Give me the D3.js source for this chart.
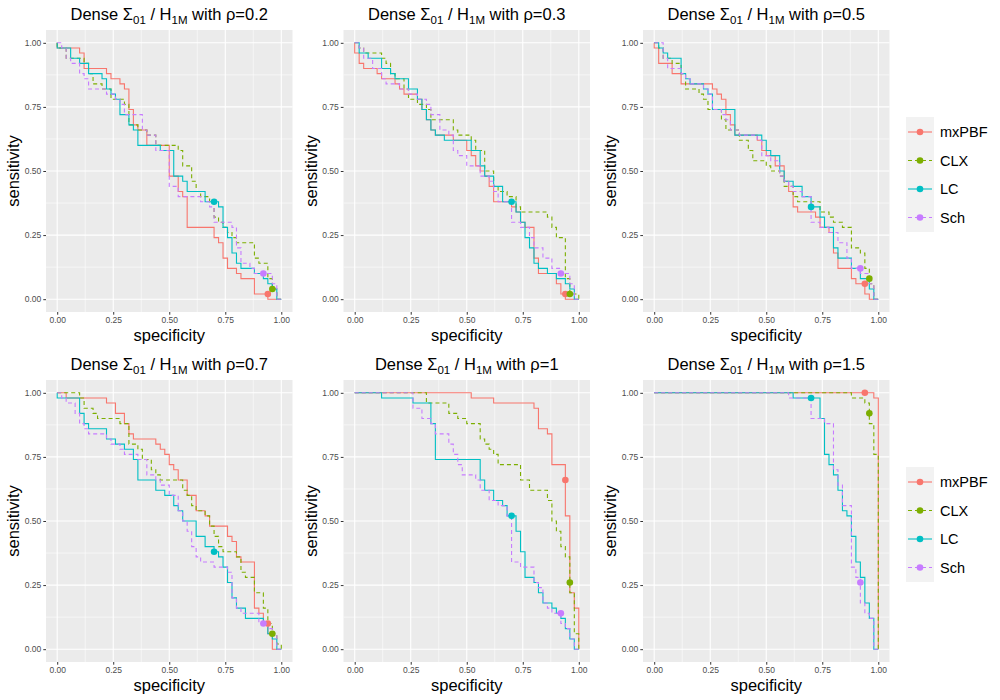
<!DOCTYPE html>
<html lang="en">
<head>
<meta charset="utf-8">
<title>Dense ROC panels</title>
<style>
  body { margin: 0; background: #fff; }
  svg { font-family: "Liberation Sans", Arial, sans-serif; }
  .tick text { fill: #4d4d4d; font-size: 8.5px; }
  .tick line { stroke: #333; }
</style>
</head>
<body>
<script src="https://d3js.org/d3.v7.min.js"></script>
<script>

// ---- data -------------------------------------------------------------
const methods = ["mxPBF", "CLX", "LC", "Sch"];
const rhos = ["0.2", "0.3", "0.5", "0.7", "1", "1.5"];
const ticks = [0, 0.25, 0.5, 0.75, 1];

// operating point of each method (specificity is the same in every panel)
const ptSpec = [0.94, 0.96, 0.70, 0.92];
const ptSens_r02 = [0.02, 0.04, 0.38, 0.10];
const ptSens_r03 = [0.02, 0.02, 0.38, 0.10];
const ptSens_r05 = [0.06, 0.08, 0.36, 0.12];
const ptSens_r07 = [0.10, 0.06, 0.38, 0.10];
const ptSens_r10 = [0.66, 0.26, 0.52, 0.14];
const ptSens_r15 = [1.00, 0.92, 0.98, 0.26];

// step curves: [specificity where sensitivity drops, new sensitivity]
const r02_mxPBF = [[0,1],[0,0.98],[0.10,0.96],[0.12,0.90],[0.22,0.88],[0.24,0.86],[0.28,0.84],[0.30,0.82],[0.32,0.74],[0.34,0.68],[0.36,0.66],[0.40,0.60],[0.50,0.48],[0.54,0.42],[0.56,0.40],[0.58,0.28],[0.70,0.24],[0.72,0.22],[0.74,0.16],[0.76,0.12],[0.80,0.10],[0.82,0.08],[0.88,0.02],[0.94,0],[1,0]];
const r02_CLX = [[0,1],[0,0.98],[0.04,0.94],[0.12,0.92],[0.14,0.88],[0.16,0.84],[0.20,0.82],[0.24,0.78],[0.30,0.76],[0.32,0.68],[0.36,0.66],[0.40,0.64],[0.44,0.60],[0.54,0.58],[0.56,0.52],[0.60,0.46],[0.62,0.42],[0.64,0.40],[0.68,0.38],[0.70,0.32],[0.72,0.30],[0.74,0.28],[0.76,0.26],[0.78,0.24],[0.80,0.22],[0.88,0.16],[0.90,0.14],[0.94,0.08],[0.96,0.04],[0.98,0],[1,0]];
const r02_LC = [[0,1],[0,0.98],[0.06,0.94],[0.10,0.92],[0.14,0.88],[0.20,0.86],[0.22,0.82],[0.24,0.80],[0.26,0.78],[0.28,0.72],[0.32,0.68],[0.34,0.66],[0.36,0.60],[0.46,0.58],[0.52,0.48],[0.56,0.46],[0.58,0.42],[0.66,0.38],[0.72,0.36],[0.74,0.28],[0.76,0.24],[0.78,0.18],[0.80,0.14],[0.82,0.12],[0.88,0.10],[0.92,0.08],[0.94,0.06],[0.96,0.04],[0.98,0],[1,0]];
const r02_Sch = [[0,1],[0.02,0.98],[0.04,0.94],[0.06,0.92],[0.10,0.88],[0.12,0.86],[0.14,0.82],[0.22,0.80],[0.26,0.78],[0.28,0.76],[0.30,0.72],[0.38,0.66],[0.40,0.64],[0.44,0.58],[0.50,0.44],[0.54,0.40],[0.64,0.38],[0.68,0.36],[0.70,0.30],[0.78,0.28],[0.80,0.20],[0.82,0.14],[0.86,0.12],[0.88,0.10],[0.96,0.06],[0.98,0],[1,0]];

const r03_mxPBF = [[0,1],[0,0.96],[0.02,0.92],[0.04,0.90],[0.10,0.88],[0.12,0.86],[0.18,0.84],[0.20,0.82],[0.22,0.80],[0.28,0.78],[0.30,0.74],[0.32,0.70],[0.34,0.66],[0.36,0.64],[0.44,0.62],[0.50,0.58],[0.52,0.56],[0.54,0.52],[0.56,0.50],[0.58,0.48],[0.60,0.44],[0.62,0.38],[0.70,0.36],[0.72,0.34],[0.74,0.30],[0.76,0.28],[0.80,0.16],[0.82,0.10],[0.90,0.06],[0.92,0.02],[0.94,0],[1,0]];
const r03_CLX = [[0,1],[0.02,0.98],[0.04,0.96],[0.12,0.94],[0.14,0.92],[0.16,0.88],[0.18,0.86],[0.22,0.82],[0.24,0.78],[0.28,0.76],[0.32,0.74],[0.34,0.70],[0.44,0.66],[0.46,0.64],[0.52,0.62],[0.54,0.58],[0.58,0.50],[0.62,0.44],[0.64,0.42],[0.68,0.40],[0.72,0.36],[0.74,0.34],[0.86,0.32],[0.88,0.28],[0.90,0.24],[0.94,0.08],[0.96,0.02],[1,0]];
const r03_LC = [[0,1],[0.02,0.96],[0.06,0.94],[0.12,0.90],[0.16,0.88],[0.18,0.86],[0.24,0.82],[0.28,0.78],[0.30,0.74],[0.32,0.70],[0.34,0.66],[0.36,0.64],[0.40,0.62],[0.52,0.58],[0.56,0.52],[0.58,0.48],[0.62,0.44],[0.66,0.38],[0.72,0.34],[0.74,0.30],[0.76,0.24],[0.78,0.20],[0.80,0.14],[0.82,0.12],[0.86,0.10],[0.90,0.08],[0.94,0.06],[0.96,0.04],[0.98,0],[1,0]];
const r03_Sch = [[0,1],[0.02,0.98],[0.04,0.94],[0.08,0.90],[0.12,0.86],[0.14,0.84],[0.20,0.82],[0.24,0.80],[0.28,0.78],[0.32,0.76],[0.34,0.72],[0.38,0.66],[0.42,0.64],[0.44,0.58],[0.46,0.56],[0.50,0.52],[0.56,0.48],[0.60,0.46],[0.62,0.42],[0.64,0.38],[0.70,0.30],[0.74,0.28],[0.78,0.24],[0.80,0.20],[0.84,0.16],[0.88,0.12],[0.92,0.10],[0.96,0.06],[0.98,0],[1,0]];

const r05_mxPBF = [[0,1],[0,0.98],[0.02,0.92],[0.08,0.88],[0.12,0.84],[0.26,0.82],[0.28,0.80],[0.30,0.78],[0.32,0.72],[0.34,0.68],[0.36,0.64],[0.46,0.62],[0.48,0.58],[0.50,0.56],[0.54,0.52],[0.58,0.46],[0.60,0.42],[0.62,0.36],[0.64,0.34],[0.72,0.32],[0.74,0.28],[0.78,0.26],[0.80,0.18],[0.82,0.12],[0.88,0.08],[0.90,0.06],[0.94,0.02],[0.96,0],[1,0]];
const r05_CLX = [[0,1],[0.02,0.98],[0.04,0.94],[0.08,0.92],[0.12,0.88],[0.14,0.82],[0.20,0.80],[0.22,0.78],[0.24,0.74],[0.30,0.70],[0.32,0.66],[0.38,0.62],[0.42,0.58],[0.44,0.54],[0.50,0.52],[0.52,0.50],[0.56,0.48],[0.58,0.44],[0.62,0.40],[0.64,0.38],[0.74,0.34],[0.78,0.32],[0.80,0.30],[0.84,0.28],[0.88,0.20],[0.92,0.18],[0.94,0.12],[0.96,0.06],[0.98,0],[1,0]];
const r05_LC = [[0,1],[0.02,0.98],[0.04,0.96],[0.06,0.94],[0.12,0.88],[0.14,0.86],[0.16,0.84],[0.22,0.82],[0.24,0.80],[0.26,0.74],[0.36,0.64],[0.48,0.62],[0.50,0.58],[0.52,0.56],[0.56,0.50],[0.58,0.46],[0.62,0.44],[0.66,0.40],[0.70,0.36],[0.74,0.32],[0.76,0.28],[0.80,0.20],[0.82,0.16],[0.88,0.12],[0.92,0.08],[0.96,0.04],[0.98,0],[1,0]];
const r05_Sch = [[0,1],[0.04,0.94],[0.06,0.90],[0.12,0.88],[0.14,0.86],[0.16,0.84],[0.22,0.82],[0.24,0.80],[0.26,0.74],[0.30,0.72],[0.32,0.70],[0.34,0.66],[0.38,0.64],[0.46,0.62],[0.48,0.56],[0.52,0.54],[0.56,0.48],[0.58,0.46],[0.60,0.44],[0.62,0.42],[0.66,0.40],[0.70,0.30],[0.74,0.28],[0.78,0.26],[0.82,0.22],[0.86,0.16],[0.88,0.12],[0.92,0.10],[0.96,0.06],[0.98,0],[1,0]];

const r07_mxPBF = [[0,1],[0.04,0.98],[0.22,0.96],[0.26,0.92],[0.30,0.88],[0.32,0.84],[0.34,0.82],[0.44,0.80],[0.46,0.78],[0.48,0.76],[0.50,0.72],[0.52,0.70],[0.54,0.66],[0.58,0.60],[0.62,0.54],[0.66,0.52],[0.68,0.48],[0.76,0.44],[0.78,0.42],[0.80,0.36],[0.82,0.34],[0.88,0.16],[0.90,0.14],[0.92,0.10],[0.94,0.06],[0.96,0],[1,0]];
const r07_CLX = [[0,1],[0.10,0.98],[0.12,0.94],[0.16,0.92],[0.18,0.90],[0.28,0.88],[0.32,0.80],[0.36,0.78],[0.38,0.74],[0.42,0.70],[0.44,0.68],[0.46,0.66],[0.56,0.62],[0.58,0.60],[0.60,0.56],[0.62,0.54],[0.66,0.52],[0.68,0.48],[0.70,0.44],[0.72,0.40],[0.74,0.38],[0.80,0.36],[0.82,0.30],[0.84,0.28],[0.88,0.22],[0.92,0.16],[0.94,0.10],[0.96,0.06],[0.98,0.02],[1,0]];
const r07_LC = [[0,1],[0,0.98],[0.10,0.92],[0.12,0.88],[0.14,0.86],[0.22,0.82],[0.26,0.80],[0.30,0.78],[0.34,0.74],[0.36,0.66],[0.44,0.62],[0.48,0.60],[0.52,0.56],[0.54,0.54],[0.56,0.50],[0.62,0.44],[0.66,0.40],[0.70,0.38],[0.72,0.36],[0.74,0.32],[0.76,0.26],[0.78,0.20],[0.80,0.16],[0.84,0.12],[0.92,0.10],[0.94,0.06],[0.96,0.04],[0.98,0],[1,0]];
const r07_Sch = [[0,1],[0.02,0.98],[0.04,0.96],[0.08,0.92],[0.10,0.88],[0.12,0.86],[0.14,0.84],[0.22,0.82],[0.24,0.80],[0.28,0.78],[0.30,0.76],[0.36,0.74],[0.40,0.68],[0.44,0.66],[0.46,0.64],[0.50,0.60],[0.54,0.54],[0.56,0.50],[0.58,0.46],[0.60,0.40],[0.62,0.36],[0.64,0.34],[0.70,0.32],[0.76,0.30],[0.78,0.20],[0.80,0.16],[0.82,0.14],[0.90,0.10],[0.94,0.08],[0.96,0.06],[0.98,0],[1,0]];

const r10_mxPBF = [[0,1],[0.52,0.98],[0.62,0.96],[0.80,0.94],[0.82,0.86],[0.86,0.84],[0.88,0.72],[0.94,0.52],[0.96,0.22],[0.98,0.16],[1,0]];
const r10_CLX = [[0,1],[0.32,0.96],[0.42,0.92],[0.46,0.90],[0.50,0.88],[0.56,0.82],[0.58,0.80],[0.60,0.78],[0.62,0.76],[0.64,0.72],[0.74,0.66],[0.78,0.62],[0.86,0.58],[0.88,0.50],[0.90,0.46],[0.92,0.40],[0.94,0.36],[0.96,0.22],[0.98,0.06],[1,0]];
const r10_LC = [[0,1],[0.12,0.98],[0.26,0.96],[0.34,0.88],[0.36,0.74],[0.56,0.66],[0.58,0.62],[0.62,0.58],[0.66,0.56],[0.68,0.52],[0.72,0.46],[0.74,0.38],[0.76,0.28],[0.80,0.26],[0.82,0.22],[0.84,0.18],[0.88,0.16],[0.90,0.14],[0.92,0.12],[0.94,0.08],[0.96,0.04],[0.98,0],[1,0]];
const r10_Sch = [[0,1],[0.26,0.94],[0.30,0.90],[0.34,0.88],[0.36,0.84],[0.42,0.80],[0.44,0.76],[0.46,0.72],[0.48,0.68],[0.54,0.66],[0.56,0.62],[0.60,0.58],[0.64,0.56],[0.68,0.52],[0.70,0.34],[0.74,0.32],[0.80,0.26],[0.82,0.24],[0.84,0.18],[0.86,0.16],[0.88,0.14],[0.92,0.10],[0.94,0.08],[0.96,0.04],[0.98,0],[1,0]];

const r15_mxPBF = [[0,1],[0.98,0.98],[1,0]];
const r15_CLX = [[0,1],[0.88,0.98],[0.94,0.96],[0.96,0.88],[0.98,0.76],[1,0]];
const r15_LC = [[0,1],[0.62,0.98],[0.74,0.90],[0.76,0.76],[0.78,0.72],[0.80,0.68],[0.82,0.62],[0.84,0.54],[0.86,0.52],[0.88,0.44],[0.90,0.34],[0.92,0.28],[0.94,0.18],[0.96,0.12],[0.98,0],[1,0]];
const r15_Sch = [[0,1],[0.60,0.98],[0.70,0.90],[0.76,0.88],[0.80,0.70],[0.82,0.64],[0.84,0.56],[0.88,0.32],[0.90,0.28],[0.92,0.18],[0.94,0.14],[0.96,0.12],[0.98,0],[1,0]];

const curves = [
  [r02_mxPBF, r02_CLX, r02_LC, r02_Sch],
  [r03_mxPBF, r03_CLX, r03_LC, r03_Sch],
  [r05_mxPBF, r05_CLX, r05_LC, r05_Sch],
  [r07_mxPBF, r07_CLX, r07_LC, r07_Sch],
  [r10_mxPBF, r10_CLX, r10_LC, r10_Sch],
  [r15_mxPBF, r15_CLX, r15_LC, r15_Sch]
];
const points = [ptSens_r02, ptSens_r03, ptSens_r05, ptSens_r07, ptSens_r10, ptSens_r15];

// ---- layout -----------------------------------------------------------
const colors = ["#F8766D", "#7CAE00", "#00BFC4", "#C77CFF"];
const dashes = [null, "4,3", null, "4,3"];
const colLeft = [46, 343.5, 643];
const rowTop = [30, 380];
const pw = 246.5, ph = 282;

const svg = d3.select("body").append("svg")
    .attr("width", 1000)
    .attr("height", 700);

const fmt = d3.format(".2f");
const minor = [0.125, 0.375, 0.625, 0.875];

rhos.forEach((rho, i) => {
  const r = Math.floor(i / 3), c = i % 3;
  const x0 = colLeft[c], y0 = rowTop[r];
  const x = d3.scaleLinear().domain([-0.05, 1.05]).range([x0, x0 + pw]);
  const y = d3.scaleLinear().domain([-0.05, 1.05]).range([y0 + ph, y0]);

  const g = svg.append("g");

  // panel background + grid
  g.append("rect").attr("x", x0).attr("y", y0)
    .attr("width", pw).attr("height", ph).attr("fill", "#EBEBEB");

  g.selectAll(".minx").data(minor).enter().append("line")
    .attr("x1", d => x(d)).attr("x2", d => x(d))
    .attr("y1", y0).attr("y2", y0 + ph)
    .attr("stroke", "#fff").attr("stroke-width", 0.55);
  g.selectAll(".miny").data(minor).enter().append("line")
    .attr("y1", d => y(d)).attr("y2", d => y(d))
    .attr("x1", x0).attr("x2", x0 + pw)
    .attr("stroke", "#fff").attr("stroke-width", 0.55);
  g.selectAll(".majx").data(ticks).enter().append("line")
    .attr("x1", d => x(d)).attr("x2", d => x(d))
    .attr("y1", y0).attr("y2", y0 + ph)
    .attr("stroke", "#fff").attr("stroke-width", 1.1);
  g.selectAll(".majy").data(ticks).enter().append("line")
    .attr("y1", d => y(d)).attr("y2", d => y(d))
    .attr("x1", x0).attr("x2", x0 + pw)
    .attr("stroke", "#fff").attr("stroke-width", 1.1);

  // axes
  const ax = g.append("g")
    .attr("transform", "translate(0," + (y0 + ph) + ")")
    .call(d3.axisBottom(x).tickValues(ticks).tickFormat(fmt).tickSize(2.7).tickPadding(2));
  ax.select(".domain").remove();
  const ay = g.append("g")
    .attr("transform", "translate(" + x0 + ",0)")
    .call(d3.axisLeft(y).tickValues(ticks).tickFormat(fmt).tickSize(2.7).tickPadding(2));
  ay.select(".domain").remove();

  // step curves
  const line = d3.line()
    .x(d => x(d[0]))
    .y(d => y(d[1]))
    .curve(d3.curveStepAfter);
  curves[i].forEach((cv, k) => {
    g.append("path")
      .attr("d", line(cv))
      .attr("fill", "none")
      .attr("stroke", colors[k])
      .attr("stroke-width", 1.1)
      .attr("stroke-dasharray", dashes[k]);
  });

  // operating points
  g.selectAll(".pt").data(points[i]).enter().append("circle")
    .attr("cx", (d, k) => x(ptSpec[k]))
    .attr("cy", d => y(d))
    .attr("r", 3.3)
    .attr("fill", (d, k) => colors[k]);

  // title
  const t = g.append("text")
    .attr("x", x0 + pw / 2).attr("y", y0 - 10)
    .attr("text-anchor", "middle")
    .attr("font-size", 16.5).attr("fill", "#000");
  t.append("tspan").text("Dense \u03A3");
  t.append("tspan").attr("font-size", 11.5).attr("dy", 4).text("01");
  t.append("tspan").attr("dy", -4).text(" / H");
  t.append("tspan").attr("font-size", 11.5).attr("dy", 4).text("1M");
  t.append("tspan").attr("dy", -4).text(" with \u03C1=" + rho);

  // axis titles
  g.append("text")
    .attr("x", x0 + pw / 2).attr("y", y0 + ph + 29)
    .attr("text-anchor", "middle").attr("font-size", 16.5)
    .text("specificity");
  g.append("text")
    .attr("transform", "translate(" + (x0 - 27) + "," + (y0 + ph / 2) + ") rotate(-90)")
    .attr("text-anchor", "middle").attr("font-size", 16.5)
    .text("sensitivity");
});

// legends, one per row
rowTop.forEach(top => {
  const lg = svg.append("g").attr("transform", "translate(906," + (top + 87) + ")");
  lg.append("rect").attr("width", 28).attr("height", 115).attr("fill", "#F2F2F2");
  methods.forEach((m, k) => {
    const cy = 15 + k * 28.5;
    lg.append("line")
      .attr("x1", 2).attr("x2", 26).attr("y1", cy).attr("y2", cy)
      .attr("stroke", colors[k]).attr("stroke-width", 1.1)
      .attr("stroke-dasharray", dashes[k]);
    lg.append("circle").attr("cx", 14).attr("cy", cy).attr("r", 3.3)
      .attr("fill", colors[k]);
    lg.append("text").attr("x", 34).attr("y", cy + 5)
      .attr("font-size", 14.5).text(m);
  });
});
</script>
</body>
</html>
